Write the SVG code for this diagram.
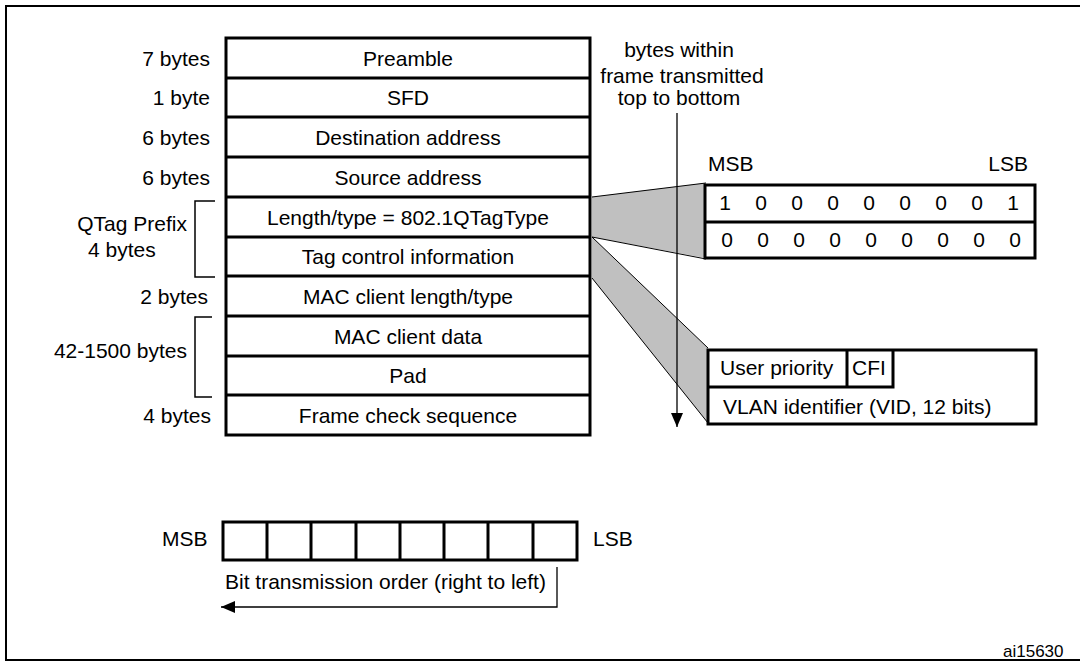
<svg xmlns="http://www.w3.org/2000/svg" width="1080" height="662" viewBox="0 0 1080 662">
<style>
text{font-family:"Liberation Sans",Arial,sans-serif;font-size:21px;fill:#000}
.c{text-anchor:middle}
.e{text-anchor:end}
.thick{fill:none;stroke:#000;stroke-width:3}
.thin{fill:none;stroke:#000;stroke-width:1.5}
.poly{fill:#c0c0c0;stroke:none}
.edge{fill:none;stroke:#000;stroke-width:1}
</style>
<defs>
<marker id="ah" viewBox="0 0 14 12" refX="14" refY="6" markerWidth="14" markerHeight="12" markerUnits="userSpaceOnUse" orient="auto">
<path d="M0,0 L14,6 L0,12 Z" fill="#000"/>
</marker>
</defs>
<rect width="1080" height="662" fill="#fff"/>
<path d="M1090,6 H6 V660 H1090" fill="none" stroke="#000" stroke-width="2"/>

<g id="connectors">
<polygon class="poly" points="592,197 705,183 705,258 592,237"/>
<line class="edge" x1="592" y1="197" x2="706" y2="183"/>
<line class="edge" x1="592" y1="237" x2="706" y2="259"/>
<polygon class="poly" points="592,237 708,348 708,423 592,278"/>
<line class="edge" x1="592" y1="237" x2="708" y2="348"/>
<line class="edge" x1="592" y1="278" x2="708" y2="423"/>
<line x1="677" y1="113" x2="677" y2="427" stroke="#000" stroke-width="1.3" marker-end="url(#ah)"/>
<path d="M557,567 V607 H221" fill="none" stroke="#000" stroke-width="1.3" marker-end="url(#ah)"/>
</g>

<g id="frame">
<rect class="thick" x="226" y="38" width="364" height="397"/>
<path class="thick" d="M226,78 H590 M226,117 H590 M226,157 H590 M226,197 H590 M226,237 H590 M226,276 H590 M226,316 H590 M226,356 H590 M226,395 H590"/>
<text class="c" x="408" y="66">Preamble</text>
<text class="c" x="408" y="105">SFD</text>
<text class="c" x="408" y="145">Destination address</text>
<text class="c" x="408" y="185">Source address</text>
<text class="c" x="408" y="225">Length/type = 802.1QTagType</text>
<text class="c" x="408" y="264">Tag control information</text>
<text class="c" x="408" y="304">MAC client length/type</text>
<text class="c" x="408" y="344">MAC client data</text>
<text class="c" x="408" y="383">Pad</text>
<text class="c" x="408" y="423">Frame check sequence</text>
</g>

<g id="labels">
<text class="e" x="210" y="66">7 bytes</text>
<text class="e" x="210" y="105">1 byte</text>
<text class="e" x="210" y="145">6 bytes</text>
<text class="e" x="210" y="185">6 bytes</text>
<text class="e" x="187" y="231">QTag Prefix</text>
<text x="88" y="257">4 bytes</text>
<text class="e" x="208" y="304">2 bytes</text>
<text class="e" x="187" y="358">42-1500 bytes</text>
<text class="e" x="211" y="423">4 bytes</text>
<path class="thin" d="M215,201 H195 V277 H215"/>
<path class="thin" d="M212,317 H195 V397 H212"/>
</g>

<g id="direction-note">
<text class="c" x="679" y="57">bytes within</text>
<text class="c" x="682" y="83">frame transmitted</text>
<text class="c" x="679" y="105">top to bottom</text>
</g>

<g id="tagtype-bits">
<text x="708" y="171">MSB</text>
<text class="e" x="1028" y="171">LSB</text>
<rect class="thick" x="705" y="185" width="330" height="73"/>
<line class="thick" x1="705" y1="222" x2="1035" y2="222"/>
<text class="c" x="725" y="210">1</text><text class="c" x="761" y="210">0</text><text class="c" x="797" y="210">0</text><text class="c" x="833" y="210">0</text><text class="c" x="869" y="210">0</text><text class="c" x="905" y="210">0</text><text class="c" x="941" y="210">0</text><text class="c" x="977" y="210">0</text><text class="c" x="1013" y="210">1</text>
<text class="c" x="727" y="247">0</text><text class="c" x="763" y="247">0</text><text class="c" x="799" y="247">0</text><text class="c" x="835" y="247">0</text><text class="c" x="871" y="247">0</text><text class="c" x="907" y="247">0</text><text class="c" x="943" y="247">0</text><text class="c" x="979" y="247">0</text><text class="c" x="1015" y="247">0</text>
</g>

<g id="tci-fields">
<rect class="thick" x="708" y="350" width="328" height="74"/>
<path class="thick" d="M708,387 H893 V350 M847,350 V387"/>
<text x="720" y="375">User priority</text>
<text x="852" y="375">CFI</text>
<text x="723" y="414">VLAN identifier (VID, 12 bits)</text>
</g>

<g id="bit-order">
<text x="162" y="546">MSB</text>
<text x="593" y="546">LSB</text>
<rect class="thick" x="223" y="522" width="354" height="38"/>
<path class="thick" d="M267,522 V560 M311,522 V560 M356,522 V560 M400,522 V560 M444,522 V560 M488,522 V560 M533,522 V560"/>
<text x="225" y="589">Bit transmission order (right to left)</text>
</g>

<text x="1003" y="657" style="font-size:17px">ai15630</text>
</svg>
